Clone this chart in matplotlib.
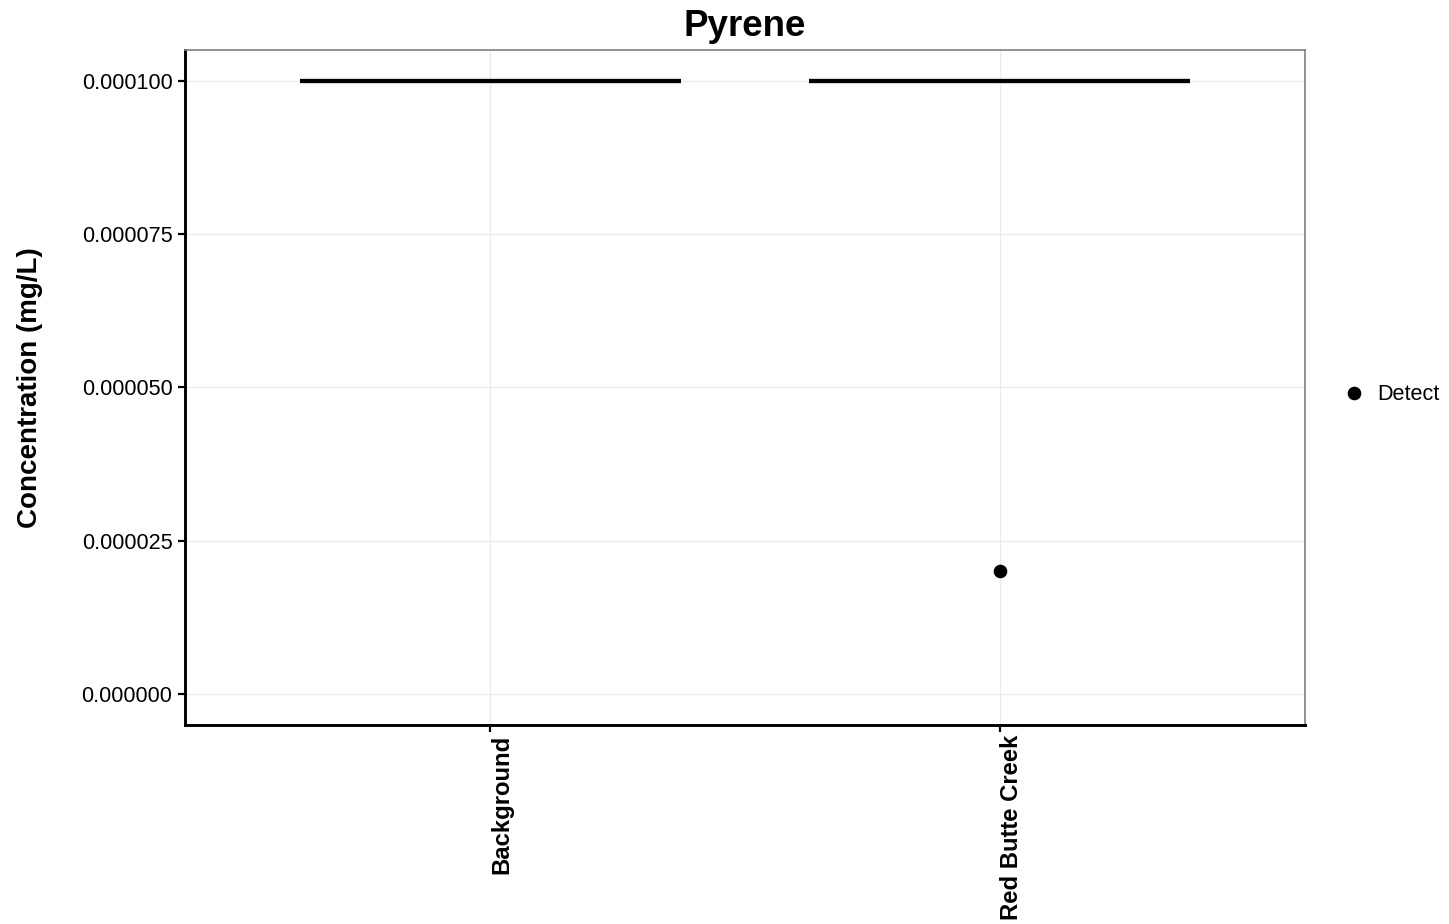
import numpy as np
import matplotlib.pyplot as plt
from matplotlib.ticker import FormatStrFormatter

plt.rcParams['font.family'] = ['Liberation Sans', 'DejaVu Sans']

# dane
categories = ['Background', 'Red Butte Creek']
limit_values = [0.0001, 0.0001]
detect_sites = ['Red Butte Creek']
detect_values = [0.00002]
y_ticks = [0.0, 0.000025, 0.00005, 0.000075, 0.0001]

fig = plt.figure(figsize=(14.49, 9.24), dpi=100)
ax = fig.add_axes([185 / 1449, 1 - 725 / 924, 1120 / 1449, 675 / 924])

x = np.arange(len(categories))
ax.hlines(limit_values, x - 0.375, x + 0.375, colors='black', linewidth=3.1, zorder=3)

detect_x = [categories.index(s) for s in detect_sites]
ax.plot(detect_x, detect_values, 'o', color='black', markersize=8.8,
        linestyle='none', label='Detect', zorder=4)

ax.set_xlim(-0.6, 1.6)
ax.set_ylim(-0.00000506, 0.000105)
ax.set_xticks(x)
ax.set_xticklabels(categories, rotation=90, fontsize=17.2, fontweight='bold',
                   ha='left', rotation_mode='default')
ax.set_yticks(y_ticks)
ax.yaxis.set_major_formatter(FormatStrFormatter('%.6f'))
ax.tick_params(axis='y', labelsize=15.6, length=5, width=1.6, pad=4)
ax.tick_params(axis='x', length=5, width=1.6, pad=2)

ax.grid(True, color='#ebebeb', linewidth=1.0, zorder=0)
ax.set_axisbelow(True)

for side in ['top', 'right']:
    ax.spines[side].set_color('#808080')
    ax.spines[side].set_linewidth(1.2)
for side in ['left', 'bottom']:
    ax.spines[side].set_color('black')
    ax.spines[side].set_linewidth(2.1)

ax.set_title('Pyrene', fontsize=26.5, fontweight='bold', pad=10)
ax.set_ylabel('Concentration (mg/L)', fontsize=20, fontweight='bold', labelpad=28)

ax.legend(loc='center left', bbox_to_anchor=(1345 / 1449, 1 - 395 / 924),
          bbox_transform=fig.transFigure, frameon=False, fontsize=15.6,
          handlelength=0.8, handletextpad=0.7, borderpad=0, borderaxespad=0)

fig.savefig('out.png', dpi=100)
